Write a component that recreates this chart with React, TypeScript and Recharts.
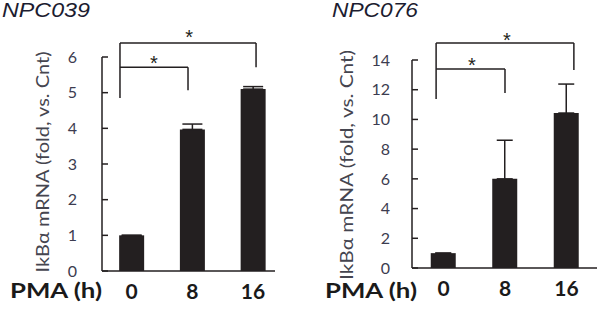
import React from 'react';
import { BarChart, Bar, XAxis, YAxis, ErrorBar, ReferenceLine, ReferenceDot } from 'recharts';

const categories = ['0', '8', '16'];
const npc039Values = [1, 3.97, 5.1];
const npc039Errors = [0, 0.15, 0.07];
const npc076Values = [1, 6.0, 10.43];
const npc076Errors = [0, 2.6, 1.95];
const npc039Ticks = [0, 1, 2, 3, 4, 5, 6];
const npc076Ticks = [0, 2, 4, 6, 8, 10, 12, 14];

// significance brackets as segments [x1, y1, x2, y2] in data units (x = category index)
const npc039Brackets = [
  [-0.19, 4.85, -0.19, 6.39],
  [-0.19, 6.39, 2.05, 6.39],
  [2.05, 6.39, 2.05, 5.71],
  [-0.19, 5.71, 0.93, 5.71],
  [0.93, 5.71, 0.93, 5.07],
];
const npc039Stars = [
  [0.95, 6.57],
  [0.37, 5.84],
];
const npc076Brackets = [
  [-0.12, 11.37, -0.12, 15.14],
  [-0.12, 15.14, 2.12, 15.14],
  [2.12, 15.14, 2.12, 13.32],
  [-0.12, 13.39, 1.0, 13.39],
  [1.0, 13.39, 1.0, 11.78],
];
const npc076Stars = [
  [1.03, 15.36],
  [0.46, 13.68],
];

const INK = '#231f20';
const TICK = '#3c3c50';

type PanelProps = {
  values: number[];
  errors: number[];
  ticks: number[];
  yMax: number;
  xDomain: [number, number];
  brackets: number[][];
  stars: number[][];
  margin: { top: number; right: number; bottom: number; left: number };
  yTickMargin: number;
  capWidth: number;
};

function Panel(p: PanelProps) {
  const data = categories.map((c, i) => ({ x: i, value: p.values[i], error: [0, p.errors[i]] }));
  return (
    <BarChart width={300} height={312} data={data} margin={p.margin}>
      <XAxis
        dataKey="x"
        type="number"
        domain={p.xDomain}
        ticks={[0, 1, 2]}
        interval={0}
        allowDataOverflow
        tickFormatter={(v: number) => categories[v]}
        tickLine={false}
        tickSize={0}
        tickMargin={13}
        axisLine={{ stroke: INK, strokeWidth: 1.5 }}
        tick={{ fill: '#1a1a1a', fontSize: 21, fontWeight: 700, fontFamily: 'Lato' }}
      />
      <YAxis
        type="number"
        domain={[0, p.yMax]}
        ticks={p.ticks}
        interval={0}
        width={60}
        tickSize={-6}
        tickMargin={p.yTickMargin}
        axisLine={{ stroke: INK, strokeWidth: 1.5 }}
        tickLine={{ stroke: INK, strokeWidth: 1.5 }}
        tick={{ fill: TICK, fontSize: 16, fontFamily: 'Lato' }}
      />
      <Bar dataKey="value" fill={INK} barSize={25} isAnimationActive={false}>
        <ErrorBar dataKey="error" width={p.capWidth} stroke={INK} strokeWidth={1.5} direction="y" />
      </Bar>
      {p.brackets.map((b, i) => (
        <ReferenceLine
          key={'b' + i}
          segment={[{ x: b[0], y: b[1] }, { x: b[2], y: b[3] }]}
          stroke={INK}
          strokeWidth={1.5}
          ifOverflow="visible"
        />
      ))}
      {p.stars.map((s, i) => (
        <ReferenceDot
          key={'s' + i}
          x={s[0]}
          y={s[1]}
          r={0}
          ifOverflow="visible"
          label={{ value: '*', position: 'center', fontSize: 20, fill: INK, fontFamily: 'Liberation Sans' }}
        />
      ))}
    </BarChart>
  );
}

export default function App() {
  return (
    <div style={{ position: 'absolute', left: 0, top: 0, width: 600, height: 312, background: '#fff', overflow: 'hidden' }}>
      <div style={{ position: 'absolute', left: 0, top: 0 }}>
        <Panel
          values={npc039Values}
          errors={npc039Errors}
          ticks={npc039Ticks}
          yMax={6}
          xDomain={[-0.486, 2.362]}
          brackets={npc039Brackets}
          stars={npc039Stars}
          margin={{ top: 57, right: 25, bottom: 11, left: 42 }}
          yTickMargin={31}
          capWidth={10}
        />
      </div>
      <div style={{ position: 'absolute', left: 300, top: 0 }}>
        <Panel
          values={npc076Values}
          errors={npc076Errors}
          ticks={npc076Ticks}
          yMax={14}
          xDomain={[-0.512, 2.496]}
          brackets={npc076Brackets}
          stars={npc076Stars}
          margin={{ top: 60, right: 3, bottom: 14, left: 52 }}
          yTickMargin={28}
          capWidth={8}
        />
      </div>
      <svg width={600} height={312} style={{ position: 'absolute', left: 0, top: 0, pointerEvents: 'none' }}>
        <text x={2} y={17} fontFamily="Liberation Sans" fontStyle="italic" fontSize={20} fill="#1c1c30" textLength={88} lengthAdjust="spacingAndGlyphs">NPC039</text>
        <text x={332} y={17} fontFamily="Liberation Sans" fontStyle="italic" fontSize={20} fill="#1c1c30" textLength={86} lengthAdjust="spacingAndGlyphs">NPC076</text>
        <text transform="translate(42,162) rotate(-90)" textAnchor="middle" dominantBaseline="central" fontFamily="Lato" fontSize={17.5} fill="#45454f" textLength={221} lengthAdjust="spacingAndGlyphs">IkBα mRNA (fold, vs. Cnt)</text>
        <text transform="translate(346,165) rotate(-90)" textAnchor="middle" dominantBaseline="central" fontFamily="Lato" fontSize={17.5} fill="#45454f" textLength={230} lengthAdjust="spacingAndGlyphs">IkBα mRNA (fold, vs. Cnt)</text>
        <text x={10} y={298} fontFamily="Lato" fontWeight={700} fontSize={20} fill="#1a1a1a" textLength={92} lengthAdjust="spacingAndGlyphs">PMA (h)</text>
        <text x={325} y={298} fontFamily="Lato" fontWeight={700} fontSize={20} fill="#1a1a1a" textLength={92} lengthAdjust="spacingAndGlyphs">PMA (h)</text>
      </svg>
    </div>
  );
}
